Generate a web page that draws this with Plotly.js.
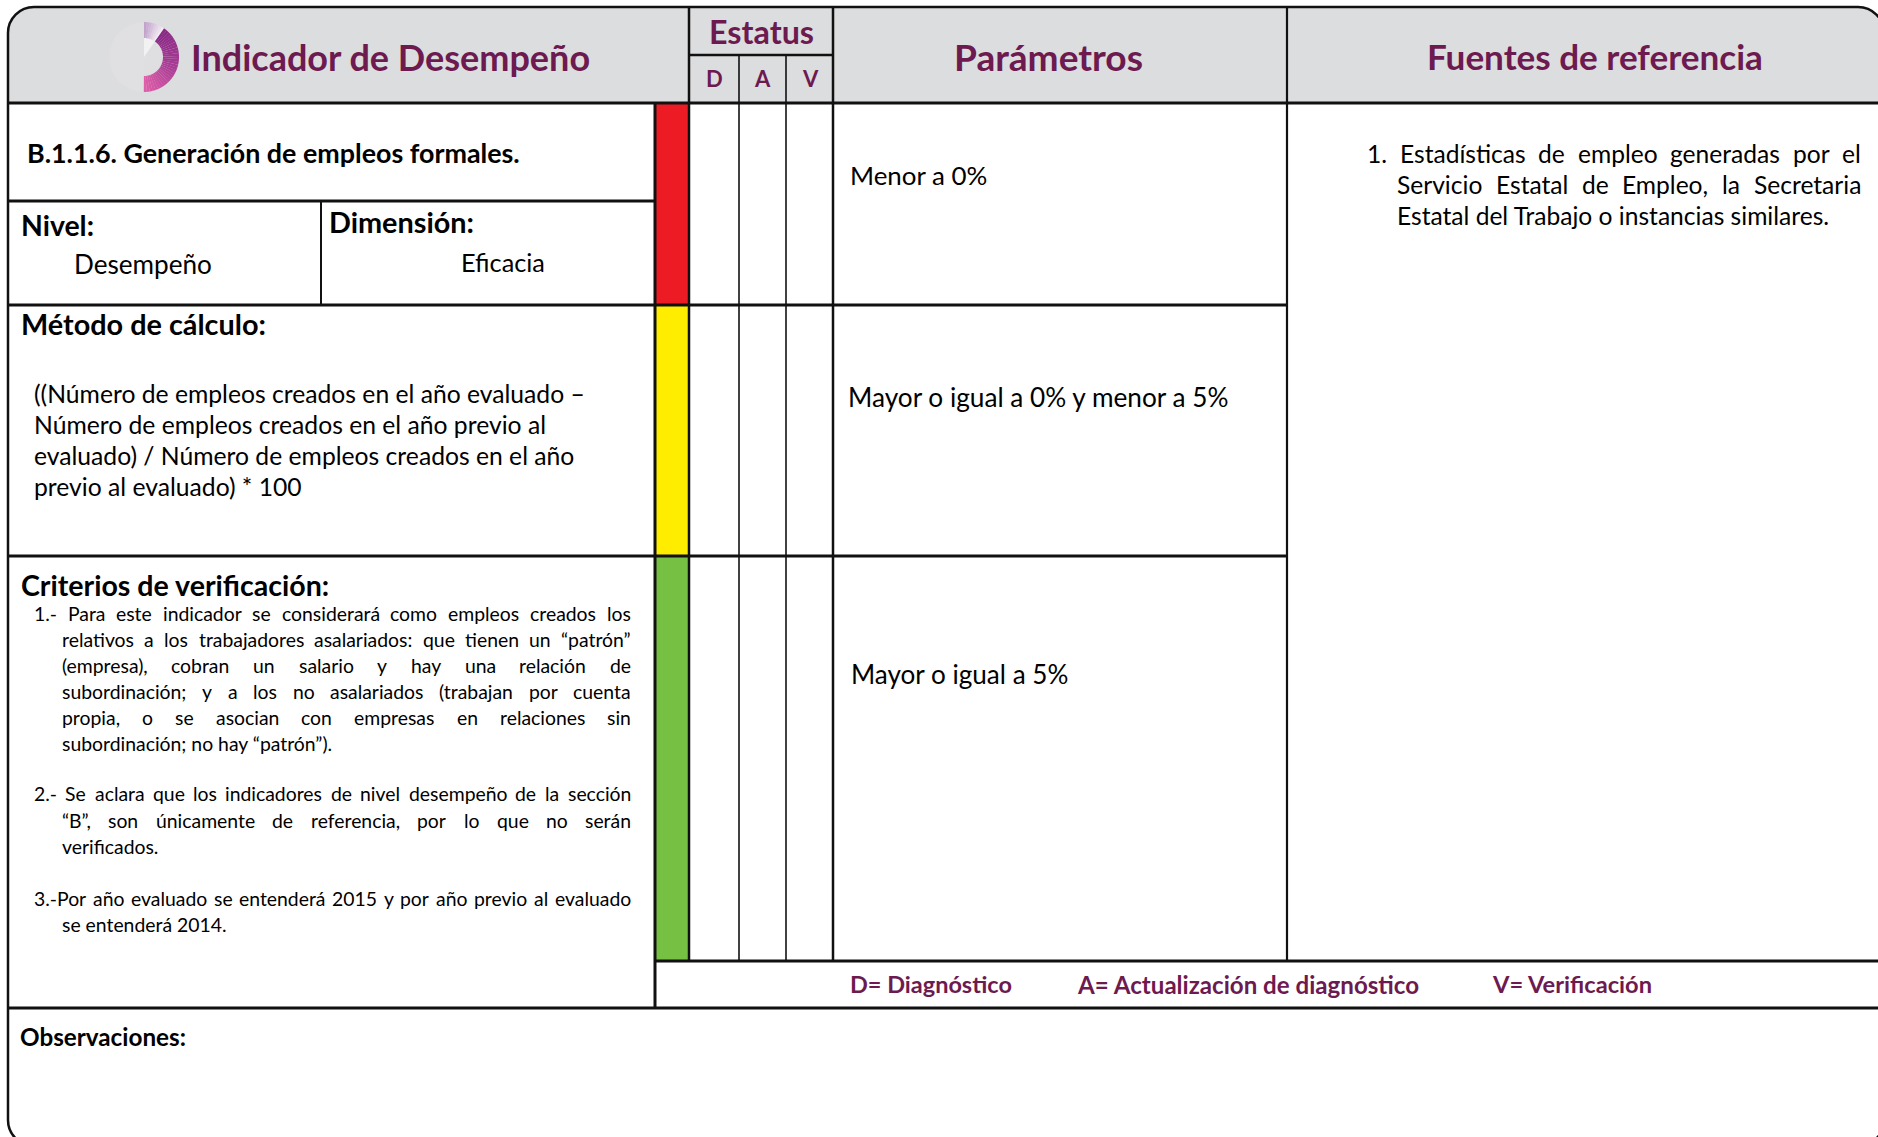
<!DOCTYPE html>
<html><head><meta charset="utf-8">
<script src="https://cdn.plot.ly/plotly-3.0.1.min.js"></script>
<style>html,body{margin:0;padding:0;background:#fff;overflow:hidden}#chart{width:1878px;height:1137px}</style>
</head><body><div id="chart"></div>
<script>
// ---------------- content ----------------
const indicatorTitle = 'Indicador de Desempeño';
const statusTitle = 'Estatus';
const statusLabels = ['D', 'A', 'V'];
const columnTitles = ['Parámetros', 'Fuentes de referencia'];
const indicatorName = 'B.1.1.6. Generación de empleos formales.';
const fieldLabels = ['Nivel:', 'Dimensión:'];
const fieldValues = ['Desempeño', 'Eficacia'];
const sectionTitles = ['Método de cálculo:', 'Criterios de verificación:', 'Observaciones:'];
const formulaLines = [
  '((Número de empleos creados en el año evaluado –',
  'Número de empleos creados en el año previo al',
  'evaluado) / Número de empleos creados en el año',
  'previo al evaluado) * 100'
];
const criteriaLines = [
  '1.- Para este indicador se considerará como empleos creados los',
  'relativos a los trabajadores asalariados: que tienen un “patrón”',
  '(empresa), cobran un salario y hay una relación de',
  'subordinación; y a los no asalariados (trabajan por cuenta',
  'propia, o se asocian con empresas en relaciones sin',
  'subordinación; no hay “patrón”).',
  '2.- Se aclara que los indicadores de nivel desempeño de la sección',
  '“B”, son únicamente de referencia, por lo que no serán',
  'verificados.',
  '3.-Por año evaluado se entenderá 2015 y por año previo al evaluado',
  'se entenderá 2014.'
];
const criteriaJustified = [1, 1, 1, 1, 1, 0, 1, 1, 0, 1, 0];
const criteriaIndented  = [0, 1, 1, 1, 1, 1, 0, 1, 1, 0, 1];
const parameterRanges = ['Menor a 0%', 'Mayor o igual a 0% y menor a 5%', 'Mayor o igual a 5%'];
const sourceNumber = '1.';
const sourceLines = [
  'Estadísticas de empleo generadas por el',
  'Servicio Estatal de Empleo, la Secretaria',
  'Estatal del Trabajo o instancias similares.'
];
const legendLabels = ['D= Diagnóstico', 'A= Actualización de diagnóstico', 'V= Verificación'];

// ---------------- style / layout ----------------
const FONT = 'Lato, "Open Sans", sans-serif';
const PURPLE = '#6D1A50';
const GRAY = '#DCDDDE';
const SEMAPHORE = ['#ED1C24', '#FFED00', '#76C043'];
const W = 1878, H = 1137;
const DY = -3; // vertical text nudge

const cv = document.createElement('canvas').getContext('2d');
function tw(text, size, weight) { cv.font = weight + ' ' + size + 'px ' + FONT; return cv.measureText(text).width; }
function fit(text, width, weight) { return width / tw(text, 100, weight) * 100; }

const annotations = [];
function ann(text, x, y, size, o) {
  o = o || {};
  annotations.push({
    text: text, x: x, y: y + DY, xref: 'x', yref: 'y', showarrow: false,
    xanchor: o.anchor || 'left', yanchor: 'middle', borderpad: 0,
    font: { family: FONT, size: size, color: o.color || '#000', weight: o.weight || 400 }
  });
}
function justified(text, x0, x1, y, size, weight) {
  const words = text.split(' ');
  const widths = words.map(w => tw(w, size, weight));
  const total = widths.reduce((a, b) => a + b, 0);
  const gap = words.length > 1 ? (x1 - x0 - total) / (words.length - 1) : 0;
  let x = x0;
  words.forEach((w, i) => { ann(w, x, y, size, { weight: weight }); x += widths[i] + gap; });
}

const shapes = [];
function line(x0, y0, x1, y1, w) {
  shapes.push({ type: 'line', xref: 'x', yref: 'y', x0: x0, y0: y0, x1: x1, y1: y1, line: { color: '#111', width: w } });
}
function rect(x0, y0, x1, y1, fill) {
  shapes.push({ type: 'rect', xref: 'x', yref: 'y', x0: x0, y0: y0, x1: x1, y1: y1, fillcolor: fill, line: { width: 0 }, layer: 'below' });
}
function path(d, fill, lw, lc) {
  shapes.push({ type: 'path', xref: 'x', yref: 'y', path: d, fillcolor: fill || 'rgba(0,0,0,0)', line: { width: lw || 0, color: lc || '#111' } });
}

// outer frame geometry
const X0 = 8, Y0 = 7, X1 = 1884, Y1 = 1146, R = 26, K = 0.5523 * R;
const HB = 103; // header bottom
path(`M${X0},${HB} L${X0},${Y0 + R} C${X0},${Y0 + R - K} ${X0 + R - K},${Y0} ${X0 + R},${Y0} L${X1 - R},${Y0} C${X1 - R + K},${Y0} ${X1},${Y0 + R - K} ${X1},${Y0 + R} L${X1},${HB} Z`, GRAY, 0);

// logo
function lerpColor(a, b, t) {
  const pa = [1, 3, 5].map(i => parseInt(a.substr(i, 2), 16));
  const pb = [1, 3, 5].map(i => parseInt(b.substr(i, 2), 16));
  return 'rgb(' + pa.map((v, i) => Math.round(v + (pb[i] - v) * t)).join(',') + ')';
}
function sector(cx, cy, r0, r1, a0, a1, fill) {
  const n = 16, pts = [];
  for (let i = 0; i <= n; i++) { const a = (a0 + (a1 - a0) * i / n) * Math.PI / 180; pts.push([cx + r1 * Math.sin(a), cy - r1 * Math.cos(a)]); }
  for (let i = n; i >= 0; i--) { const a = (a0 + (a1 - a0) * i / n) * Math.PI / 180; pts.push([cx + r0 * Math.sin(a), cy - r0 * Math.cos(a)]); }
  path('M' + pts.map(p => p[0].toFixed(2) + ',' + p[1].toFixed(2)).join(' L') + ' Z', fill, 0);
}
const LCX = 144, LCY = 57, LR1 = 35, LR0 = 19;
sector(LCX, LCY, 0, LR1, 180, 360, '#E0E0E2');
sector(LCX, LCY, 0, LR0, 35, 180, '#DFDFE1');
sector(LCX, LCY, 0, LR0, 0, 35, '#F2F2F3');
const NL = 8;
for (let i = 0; i < NL; i++) sector(LCX, LCY, LR0, LR1, i * 35 / NL, (i + 1) * 35 / NL + 0.3, lerpColor('#C2A3CB', '#F1EAF3', i / (NL - 1)));
const NP = 30;
for (let i = 0; i < NP; i++) {
  const t = i / (NP - 1);
  const c = t < 0.5 ? lerpColor('#8A2A86', '#A83D95', t * 2) : lerpColor('#A83D95', '#DE5EA9', (t - 0.5) * 2);
  sector(LCX, LCY, LR0, LR1, 35 + i * 145 / NP, 35 + (i + 1) * 145 / NP + 0.3, c);
}

// semaphore bars
const BX0 = 655, BX1 = 689;
const rowY = [HB, 305, 556, 961];
SEMAPHORE.forEach((c, i) => rect(BX0, rowY[i], BX1, rowY[i + 1], c));

// grid lines
const SX = [689, 739, 786, 833];
const PX = 1287;
line(X0, HB, X1, HB, 3);
line(SX[0], Y0, SX[0], 961, 2.5);
line(SX[3], Y0, SX[3], 961, 2.5);
line(SX[1], 55, SX[1], 961, 1.6);
line(SX[2], 55, SX[2], 961, 1.6);
line(SX[0], 55, SX[3], 55, 2.5);
line(PX, Y0, PX, 961, 2.2);
line(BX0, HB, BX0, 1008, 3);
line(X0, 201, BX0, 201, 3);
line(321, 201, 321, 305, 2);
line(X0, 305, PX, 305, 3);
line(X0, 556, PX, 556, 3);
line(BX0, 961, X1, 961, 3);
line(X0, 1008, X1, 1008, 3);
path(`M${X0 + R},${Y0} L${X1 - R},${Y0} C${X1 - R + K},${Y0} ${X1},${Y0 + R - K} ${X1},${Y0 + R} L${X1},${Y1 - R} C${X1},${Y1 - R + K} ${X1 - R + K},${Y1} ${X1 - R},${Y1} L${X0 + R},${Y1} C${X0 + R - K},${Y1} ${X0},${Y1 - R + K} ${X0},${Y1 - R} L${X0},${Y0 + R} C${X0},${Y0 + R - K} ${X0 + R - K},${Y0} ${X0 + R},${Y0} Z`, null, 2.5, '#111');

// ---------------- texts ----------------
const B = 700;
ann(indicatorTitle, 190, 60, fit(indicatorTitle, 400, B), { weight: B, color: PURPLE });
ann(statusTitle, 761, 34, fit(statusTitle, 105, B), { weight: B, color: PURPLE, anchor: 'center' });
const statusCx = [714, 762, 810];
statusLabels.forEach((s, i) => ann(s, statusCx[i], 81, 22, { weight: B, color: PURPLE, anchor: 'center' }));
ann(columnTitles[0], 1048, 59, fit(columnTitles[0], 189, B), { weight: B, color: PURPLE, anchor: 'center' });
ann(columnTitles[1], 1595, 59, fit(columnTitles[1], 336, B), { weight: B, color: PURPLE, anchor: 'center' });

ann(indicatorName, 26, 155, fit(indicatorName, 493, B), { weight: B });
ann(fieldLabels[0], 20, 228, fit(fieldLabels[0], 73, B), { weight: B });
ann(fieldLabels[1], 328, 225, fit(fieldLabels[1], 145, B), { weight: B });
ann(fieldValues[0], 73, 267, fit(fieldValues[0], 138, 400));
ann(fieldValues[1], 460, 265, fit(fieldValues[1], 84, 400));

ann(sectionTitles[0], 20, 327, fit(sectionTitles[0], 245, B), { weight: B });
const fSize = fit(formulaLines[0], 551, 400);
const formulaY = [396, 427, 458, 489];
formulaLines.forEach((t, i) => ann(t, 33, formulaY[i], fSize));

ann(sectionTitles[1], 20, 588, fit(sectionTitles[1], 309, B), { weight: B });
const cRight = 630, cLeft = [33, 61];
let cSize = fit(criteriaLines[5], 291, 400);
criteriaLines.forEach((t, i) => {
  if (criteriaJustified[i]) {
    const avail = cRight - cLeft[criteriaIndented[i]];
    cSize = Math.min(cSize, fit(t, avail * 0.97, 400));
  }
});
const criteriaY = [616, 642, 668, 694, 720, 746, 796, 823, 849, 901, 927];
criteriaLines.forEach((t, i) => {
  const x0 = cLeft[criteriaIndented[i]];
  if (criteriaJustified[i]) justified(t, x0, cRight, criteriaY[i], cSize, 400);
  else ann(t, x0, criteriaY[i], cSize);
});

ann(sectionTitles[2], 19, 1039, fit(sectionTitles[2], 166, B), { weight: B });

const pX = [849, 847, 850], pY = [178, 400, 677], pW = [138, 383, 218];
parameterRanges.forEach((t, i) => ann(t, pX[i], pY[i], fit(t, pW[i], 400)));

let sSize = fit(sourceLines[2], 433, 400);
sSize = Math.min(sSize, fit(sourceLines[0], (1860 - 1399) * 0.97, 400), fit(sourceLines[1], (1860 - 1396) * 0.97, 400));
ann(sourceNumber, 1366, 156, sSize);
justified(sourceLines[0], 1399, 1860, 156, sSize, 400);
justified(sourceLines[1], 1396, 1860, 187, sSize, 400);
ann(sourceLines[2], 1396, 218, sSize);

const lX = [849, 1076, 1491], lW = [162, 342, 160];
legendLabels.forEach((t, i) => ann(t, lX[i], 987, fit(t, lW[i], B), { weight: B, color: PURPLE }));

Plotly.newPlot('chart', [{ type: 'scatter', x: [], y: [], mode: 'markers', hoverinfo: 'skip', showlegend: false }], {
  width: W, height: H,
  margin: { l: 0, r: 0, t: 0, b: 0, pad: 0 },
  paper_bgcolor: '#fff', plot_bgcolor: '#fff',
  showlegend: false,
  xaxis: { range: [0, W], visible: false, fixedrange: true },
  yaxis: { range: [H, 0], visible: false, fixedrange: true },
  shapes: shapes,
  annotations: annotations
}, { staticPlot: true, displayModeBar: false });
</script></body></html>
